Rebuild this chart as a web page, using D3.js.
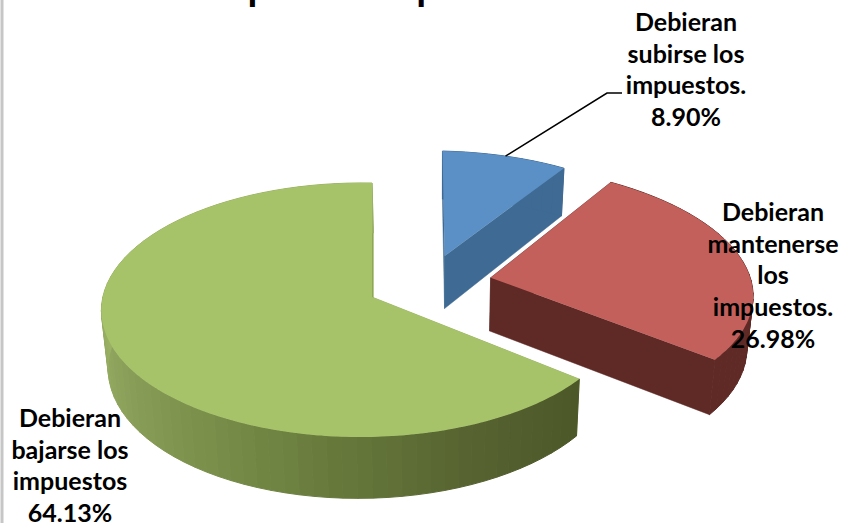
<!DOCTYPE html>
<html>
<head>
<meta charset="utf-8">
<script src="https://cdn.jsdelivr.net/npm/d3@7"></script>
<style>
  html, body { margin: 0; padding: 0; background: #fff; overflow: hidden; }
  text { font-family: Lato, "Open Sans", sans-serif; font-weight: 700; fill: #000; }
</style>
</head>
<body>
<svg id="chart" width="842" height="523"></svg>
<script>
const titleText = "punto de por ciento";
const categories = ["Debieran subirse los impuestos.", "Debieran mantenerse los impuestos.", "Debieran bajarse los impuestos"];
const values = [8.9, 26.98, 64.13];
const labelLines = [
  ["Debieran", "subirse los", "impuestos.", "8.90%"],
  ["Debieran", "mantenerse", "los", "impuestos.", "26.98%"],
  ["Debieran", "bajarse los", "impuestos", "64.13%"],
];
const topColors = ["#5b90c6", "#c4605b", "#a6c36a"];
const cutColors = ["#3f6a93", "#5f2a26", "#8fa854"];
const wallStops = [
  ["#3f6a93", "#3f6a93"],
  ["#5f2a26", "#5f2a26"],
  ["#4c5827", "#566230", "#66793b", "#7a8f4a", "#8ba05a", "#9ab064"],
];

const svg = d3.select("#chart");
const W = 842, H = 523;

// the pie plane seen in perspective, unit circle goes to screen
const apex = { x: 372, y: 297 };
const rx = 261, ry = 125.6, tiltV = 0.102, tiltU = 0.04;
const explode = 0.24, depth = 55;
const vanishX = 440, shrink = 0.98;

// per slice fit on screen, the simple projection is a bit off for the exploded ones
const sliceFit = [
  { dx: 2, dy: -1, sx: 1.02, sy: 0.99, skew: -0.04 },
  { dx: 4, dy: -2, sx: 1.087, sy: 1.04, skew: 0 },
  { dx: 0, dy: 0, sx: 0.99, sy: 1, skew: 0 },
];

const project = (u, v) => {
  const s = 1 / (1 - tiltV * v + tiltU * u);
  return { x: apex.x + rx * u * s, y: apex.y + ry * v * s, s };
};
const lower = (p) => ({
  x: vanishX + (p.x - vanishX) * shrink,
  y: p.y + depth * p.s,
});

const slices = d3.pie().sort(null).value((d) => d)(values);
const bisector = (d) => (d.startAngle + d.endAngle) / 2;
const base = slices[2];

const offset = (d) => ({
  u: explode * (Math.sin(bisector(d)) - Math.sin(bisector(base))),
  v: explode * (-Math.cos(bisector(d)) + Math.cos(bisector(base))),
});
const rawCentre = (d) => {
  const o = offset(d);
  return project(o.u, o.v);
};
const centre = (d) => {
  const c = rawCentre(d), f = sliceFit[d.index];
  return { x: c.x + f.dx, y: c.y + f.dy, s: c.s };
};
const rim = (d, a) => {
  const o = offset(d), f = sliceFit[d.index];
  const p = project(o.u + Math.sin(a), o.v - Math.cos(a));
  const c = rawCentre(d);
  const ox = p.x - c.x, oy = p.y - c.y;
  return {
    x: c.x + f.dx + ox * f.sx + oy * f.skew,
    y: c.y + f.dy + oy * f.sy,
    s: p.s,
  };
};

const path = d3.line().x((p) => p.x).y((p) => p.y);
const closed = (pts) => path(pts) + "Z";
const steps = (a, b, n) => d3.range(n + 1).map((i) => a + ((b - a) * i) / n);

svg.append("rect").attr("width", W).attr("height", H).attr("fill", "#fff");

svg.append("line")
  .attr("x1", 2).attr("x2", 2).attr("y1", 0).attr("y2", H)
  .attr("stroke", "#c6c6c6").attr("stroke-width", 3);

svg.append("text")
  .attr("class", "title")
  .attr("x", 422)
  .attr("y", 0)
  .attr("text-anchor", "middle")
  .attr("font-size", 40)
  .text(titleText);

const pieLayer = svg.append("g").attr("class", "pie-layer");

// green first, red last: same stacking as the picture
[2, 0, 1].forEach((i) => {
  const d = slices[i];
  const g = pieLayer.append("g").attr("class", "slice").datum(d);
  const c = centre(d);

  [d.startAngle, d.endAngle].forEach((a) => {
    const p = rim(d, a);
    g.append("path")
      .attr("d", closed([c, p, lower(p), lower(c)]))
      .attr("fill", cutColors[i])
      .attr("stroke", cutColors[i])
      .attr("stroke-width", 0.5);
  });

  const wallColor = d3.scaleLinear()
    .domain(d3.range(wallStops[i].length).map((k) => k / (wallStops[i].length - 1)))
    .range(wallStops[i])
    .interpolate(d3.interpolateRgb);

  // walls are split into flat facets, gives the banded shading
  const facetCount = Math.ceil(((d.endAngle - d.startAngle) * 180) / Math.PI / 3);
  const angles = steps(d.startAngle, d.endAngle, facetCount);
  const frontEnd = Math.PI * 1.5;
  d3.pairs(angles).forEach(([a, b]) => {
    const p = rim(d, a), q = rim(d, b);
    const t = i === 2 ? Math.min(1, (a - d.startAngle) / (frontEnd - d.startAngle)) : 0;
    const col = wallColor(t);
    g.append("path")
      .attr("d", closed([p, q, lower(q), lower(p)]))
      .attr("fill", col)
      .attr("stroke", col)
      .attr("stroke-width", 1);
  });

  const edge = steps(d.startAngle, d.endAngle, facetCount * 3).map((a) => rim(d, a));
  g.append("path")
    .attr("d", closed([c, ...edge]))
    .attr("fill", topColors[i]);
});

// leader of the small slice
const leaderStart = rim(slices[0], bisector(slices[0]));
svg.append("path")
  .attr("class", "leader")
  .attr("d", path([leaderStart, { x: 607, y: 93 }, { x: 622, y: 93 }]))
  .attr("fill", "none")
  .attr("stroke", "#000")
  .attr("stroke-width", 1.6);

const labelAt = [
  { x: 686, y: 31 },
  { x: 773, y: 221 },
  { x: 70, y: 427 },
];
svg.selectAll("text.label")
  .data(categories)
  .join("text")
  .attr("class", "label")
  .attr("text-anchor", "middle")
  .attr("font-size", 25)
  .attr("aria-label", (d) => d)
  .each(function (_, i) {
    d3.select(this)
      .selectAll("tspan")
      .data(labelLines[i])
      .join("tspan")
      .attr("x", labelAt[i].x)
      .attr("y", (_, k) => labelAt[i].y + k * 31.7)
      .text((line) => line);
  });
</script>
</body>
</html>
